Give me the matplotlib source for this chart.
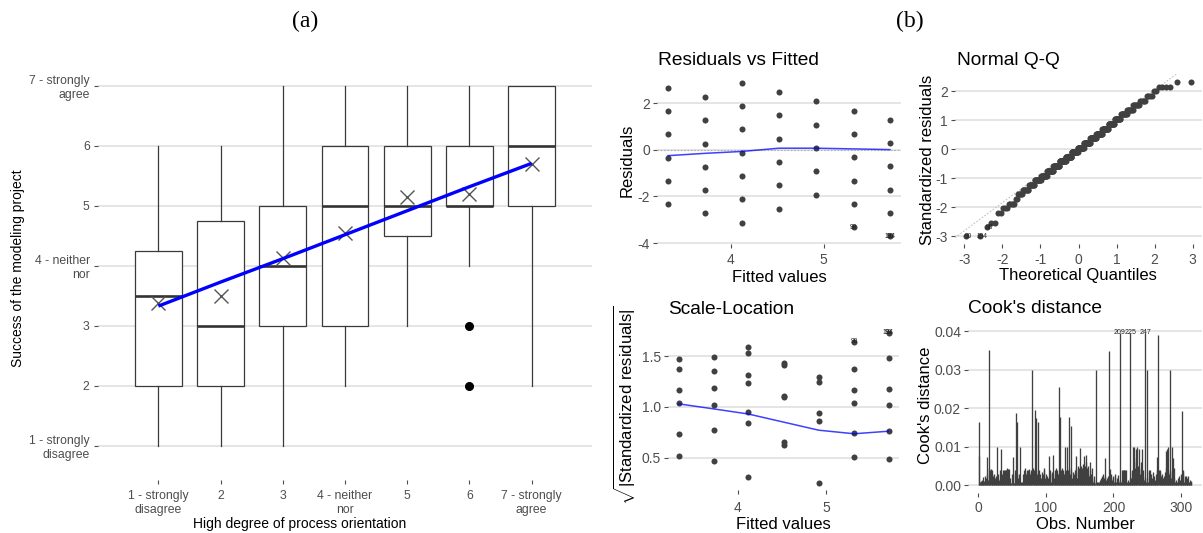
import matplotlib
matplotlib.use("Agg")
import matplotlib.pyplot as plt
from matplotlib.ticker import FormatStrFormatter
import numpy as np
from statistics import NormalDist

# ---------------------------------------------------------------- data
levels = [1, 2, 3, 4, 5, 6, 7]
x_labels = ["1 - strongly\ndisagree", "2", "3", "4 - neither\nnor", "5", "6",
            "7 - strongly\nagree"]
y_labels = ["1 - strongly\ndisagree", "2", "3", "4 - neither\nnor", "5", "6",
            "7 - strongly\nagree"]

# five-number summaries of success ratings per process-orientation level
box_whislo = [1, 1, 1, 2, 3, 4, 2]
box_q1 = [2, 2, 3, 3, 4.5, 5, 5]
box_med = [3.5, 3, 4, 5, 5, 5, 6]
box_q3 = [4.25, 4.75, 5, 6, 6, 6, 7]
box_whishi = [6, 6, 7, 7, 7, 7, 7]
box_fliers = [[], [], [], [], [], [3, 2], []]
group_means = [3.38, 3.50, 4.13, 4.55, 5.15, 5.20, 5.70]

# linear model: fitted value for each level and observed response levels
fitted = [3.33, 3.73, 4.12, 4.52, 4.92, 5.32, 5.71]
response_levels = [
    [1, 2, 3, 4, 5, 6],
    [1, 2, 3, 4, 5, 6],
    [1, 2, 3, 4, 5, 6, 7],
    [2, 3, 4, 5, 6, 7],
    [3, 4, 5, 6, 7],
    [2, 3, 4, 5, 6, 7],
    [2, 3, 4, 5, 6, 7],
]
resid_sigma = 1.235
resid_smooth = [-0.25, -0.15, -0.07, 0.07, 0.07, 0.04, 0.01]
scale_smooth = [1.03, 0.98, 0.93, 0.85, 0.77, 0.735, 0.76]

# extreme observations: (label, level index, response)
extreme_obs = [("90", 6, 2), ("194", 6, 2), ("98", 5, 2)]

# sorted standardized residuals (value, number of observations)
qq_levels = [-3.00, -2.69, -2.53, -2.20, -2.04, -1.88, -1.72, -1.55, -1.39,
             -1.23, -1.07, -0.91, -0.74, -0.58, -0.42, -0.26, -0.10, 0.06,
             0.22, 0.39, 0.54, 0.71, 0.87, 1.03, 1.20, 1.35, 1.52, 1.68,
             1.84, 2.01, 2.16, 2.33]
qq_counts = [2, 1, 2, 2, 3, 5, 2, 5, 8, 9, 12, 13, 16, 17, 19, 19, 20, 20,
             20, 19, 17, 16, 14, 12, 10, 8, 7, 5, 4, 2, 4, 2]
qq_line_intercept = 0.10
qq_line_slope = 0.97

# Cook's distance per observation, in units of 1e-4
cooks_e4 = [
    165, 77, 10, 12, 8, 15, 10, 22, 12, 25, 8, 18, 30, 74, 15,
    350, 45, 40, 42, 30, 40, 25, 15, 30, 20, 10, 25, 100, 20, 30,
    15, 5, 40, 95, 30, 10, 40, 40, 35, 40, 40, 40, 45, 15, 42,
    43, 10, 20, 5, 30, 74, 10, 5, 40, 30, 188, 165, 30, 20, 15,
    30, 100, 10, 5, 8, 12, 30, 40, 35, 45, 30, 40, 25, 40, 35,
    42, 30, 35, 40, 300, 45, 40, 30, 195, 40, 175, 30, 163, 25, 40,
    30, 5, 20, 35, 10, 30, 40, 45, 20, 10, 30, 25, 10, 20, 75,
    30, 40, 10, 30, 35, 80, 20, 40, 30, 45, 25, 40, 30, 35, 255,
    178, 40, 30, 45, 20, 40, 30, 100, 35, 40, 100, 25, 40, 177, 45,
    30, 153, 40, 20, 35, 10, 30, 40, 77, 45, 20, 50, 35, 45, 96,
    40, 50, 30, 45, 55, 40, 77, 50, 80, 60, 45, 30, 50, 25, 40,
    60, 30, 20, 45, 10, 25, 15, 5, 300, 10, 5, 8, 10, 5, 15,
    20, 10, 25, 15, 30, 20, 25, 72, 15, 20, 10, 25, 15, 349, 43,
    20, 30, 15, 25, 20, 10, 30, 25, 10, 20, 15, 26, 10, 396, 15,
    10, 5, 40, 40, 40, 40, 40, 40, 5, 10, 15, 8, 10, 20, 396,
    20, 35, 40, 100, 60, 100, 45, 95, 70, 100, 50, 40, 95, 30, 45,
    60, 95, 40, 25, 15, 20, 396, 10, 20, 300, 10, 40, 35, 40, 30,
    15, 20, 35, 10, 25, 15, 10, 30, 74, 40, 391, 40, 35, 40, 25,
    30, 15, 20, 10, 25, 35, 45, 90, 95, 40, 100, 30, 298, 35, 20,
    100, 40, 70, 45, 20, 10, 5, 15, 8, 20, 10, 25, 15, 30, 10,
    194, 40, 35, 10, 25, 20, 25, 10, 20, 25, 5, 10, 15, 8, 12,
]
cooks_labels = [209, 225, 247]

# ---------------------------------------------------------------- style
plt.rcParams['font.family'] = ['Liberation Sans', 'DejaVu Sans']
plt.rcParams['mathtext.fontset'] = 'custom'
plt.rcParams['mathtext.rm'] = 'Liberation Sans'
plt.rcParams['mathtext.it'] = 'Liberation Sans:italic'
plt.rcParams['mathtext.bf'] = 'Liberation Sans:bold'
plt.rcParams['axes.unicode_minus'] = False

W, H = 1203, 533
fig = plt.figure(figsize=(W / 100, H / 100), dpi=100)

GRID = '#DEDEDE'
TICK_TXT = '#4D4D4D'
POINT = '#404040'
BLUE = '#0000FF'


def fx(px):
    return px / W


def fy(py):
    return 1 - py / H


def add_axes_px(left, top, right, bottom):
    return fig.add_axes([fx(left), fy(bottom), (right - left) / W, (bottom - top) / H])


def style(ax, fs, xpad=2):
    for s in ax.spines.values():
        s.set_visible(False)
    ax.tick_params(axis='both', length=3, width=0.8, color=TICK_TXT,
                   labelcolor=TICK_TXT, labelsize=fs, pad=2)
    ax.tick_params(axis='x', pad=xpad)
    ax.yaxis.grid(True, color=GRID, lw=1.1)
    ax.xaxis.grid(False)
    ax.set_axisbelow(True)


# ---------------------------------------------------------------- (a) boxplots
axA = add_axes_px(98, 56, 592, 480)
style(axA, 8.8)
stats = [dict(whislo=lo, q1=a, med=m, q3=b, whishi=hi, fliers=fl)
         for lo, a, m, b, hi, fl in zip(box_whislo, box_q1, box_med, box_q3,
                                        box_whishi, box_fliers)]
axA.bxp(stats, positions=levels, widths=0.75, showcaps=False, patch_artist=True,
        boxprops=dict(facecolor='white', edgecolor='#3A3A3A', linewidth=0.9),
        medianprops=dict(color='#333333', linewidth=1.9),
        whiskerprops=dict(color='#3A3A3A', linewidth=0.9),
        flierprops=dict(marker='o', markerfacecolor='black',
                        markeredgecolor='black', markersize=5.5),
        zorder=2)
axA.plot(levels, group_means, ls='none', marker='x', color='#555555',
         ms=10, mew=1.0, zorder=3)
axA.plot(levels, fitted, color=BLUE, lw=2.4, zorder=4, solid_capstyle='butt')
axA.set_xlim(0.03, 7.97)
axA.set_ylim(0.43, 7.5)
axA.set_xticks(levels, x_labels)
axA.set_yticks(levels, y_labels)
axA.tick_params(axis='x', pad=4)
axA.tick_params(axis='y', pad=3)

fig.text(fx(305), fy(27), '(a)', family='Liberation Serif', fontsize=17,
         ha='center', va='baseline')
fig.text(fx(910), fy(27), '(b)', family='Liberation Serif', fontsize=17,
         ha='center', va='baseline')
fig.text(fx(300), fy(528), 'High degree of process orientation', fontsize=10,
         ha='center', va='baseline')
fig.text(fx(18), fy(268), 'Success of the modeling project', fontsize=10,
         rotation=90, ha='center', va='center')

# ---------------------------------------------------------------- (b) diagnostics
TITLE_FS = 13.8
LAB_FS = 12
TICK_FS = 10
LBL_FS = 4.8
PT_SIZE = 19

# Residuals vs Fitted
axR = add_axes_px(657, 75, 901, 244)
style(axR, TICK_FS, xpad=3.5)
for f, ys in zip(fitted, response_levels):
    r = np.array(ys, dtype=float) - f
    axR.scatter(np.full(len(r), f), r, s=PT_SIZE, color=POINT, linewidths=0, zorder=3)
axR.axhline(0, color='#B0B0B0', ls=(0, (1.5, 1.5)), lw=0.8, zorder=2)
axR.plot(fitted, resid_smooth, color=BLUE, lw=1.1, alpha=0.75, zorder=4)
for lab, g, yv in extreme_obs:
    axR.text(fitted[g], yv - fitted[g], lab, fontsize=LBL_FS, color='#222222',
             ha='center', va='center', zorder=5)
axR.set_xticks([4, 5])
axR.set_yticks([-4, -2, 0, 2])
fig.text(fx(658), fy(65), 'Residuals vs Fitted', fontsize=TITLE_FS, va='baseline')
fig.text(fx(779), fy(282), 'Fitted values', fontsize=LAB_FS, ha='center', va='baseline')
fig.text(fx(627), fy(160), 'Residuals', fontsize=LAB_FS, rotation=90,
         ha='center', va='center')

# Normal Q-Q
axQ = add_axes_px(955, 74, 1202, 244)
style(axQ, TICK_FS, xpad=3.5)
std_sorted = np.repeat(qq_levels, qq_counts)
n_obs = len(std_sorted)
nd = NormalDist()
theo = np.array([nd.inv_cdf((i - 0.5) / n_obs) for i in range(1, n_obs + 1)])
axQ.scatter(theo, std_sorted, s=PT_SIZE, color=POINT, linewidths=0, zorder=3)
axQ.axline((0, qq_line_intercept), slope=qq_line_slope, color='#C4C4C4',
           ls=(0, (1.5, 1.5)), lw=0.8, zorder=2)
for k, (lab, g, yv) in enumerate(extreme_obs):
    axQ.text(theo[k] + 0.06, std_sorted[k], lab, fontsize=LBL_FS, color='#222222',
             ha='center', va='center', zorder=5)
axQ.set_xticks([-3, -2, -1, 0, 1, 2, 3])
axQ.set_yticks([-3, -2, -1, 0, 1, 2])
fig.text(fx(957), fy(65), 'Normal Q-Q', fontsize=TITLE_FS, va='baseline')
fig.text(fx(1078), fy(280), 'Theoretical Quantiles', fontsize=LAB_FS,
         ha='center', va='baseline')
fig.text(fx(927), fy(160), 'Standardized residuals', fontsize=LAB_FS,
         rotation=90, ha='center', va='center')

# Scale-Location
axS = add_axes_px(668, 325, 899, 490)
style(axS, TICK_FS, xpad=5)
for f, ys in zip(fitted, response_levels):
    r = (np.array(ys, dtype=float) - f) / resid_sigma
    axS.scatter(np.full(len(r), f), np.sqrt(np.abs(r)), s=PT_SIZE, color=POINT,
                linewidths=0, zorder=3)
axS.plot(fitted, scale_smooth, color=BLUE, lw=1.1, alpha=0.75, zorder=4)
for lab, g, yv in extreme_obs:
    axS.text(fitted[g], np.sqrt(abs((yv - fitted[g]) / resid_sigma)), lab,
             fontsize=LBL_FS, color='#222222', ha='center', va='center', zorder=5)
axS.set_xticks([4, 5])
axS.set_yticks([0.5, 1.0, 1.5])
axS.yaxis.set_major_formatter(FormatStrFormatter('%.1f'))
fig.text(fx(668), fy(314), 'Scale-Location', fontsize=TITLE_FS, va='baseline')
fig.text(fx(783), fy(529), 'Fitted values', fontsize=LAB_FS, ha='center', va='baseline')
fig.text(fx(625), fy(405), r'$\sqrt{|\mathrm{Standardized\ residuals}|}$',
         fontsize=LAB_FS, rotation=90, ha='center', va='center')

# Cook's distance
axC = add_axes_px(968, 325, 1202, 493)
style(axC, TICK_FS, xpad=3)
cooks_d = np.array(cooks_e4) * 1e-4
obs = np.arange(1, len(cooks_d) + 1)
axC.vlines(obs, 0, cooks_d, color='#404040', lw=0.95, zorder=3)
for o in cooks_labels:
    axC.text(o, cooks_d[o - 1], str(o), fontsize=5, color='#222222',
             ha='center', va='center', zorder=5)
axC.set_xticks([0, 100, 200, 300])
axC.set_yticks([0, 0.01, 0.02, 0.03, 0.04])
axC.yaxis.set_major_formatter(FormatStrFormatter('%.2f'))
fig.text(fx(968), fy(313), "Cook's distance", fontsize=TITLE_FS, va='baseline')
fig.text(fx(1085), fy(529), 'Obs. Number', fontsize=LAB_FS, ha='center', va='baseline')
fig.text(fx(925), fy(405), "Cook's distance", fontsize=LAB_FS, rotation=90,
         ha='center', va='center')

fig.savefig('out.png', dpi=100)
